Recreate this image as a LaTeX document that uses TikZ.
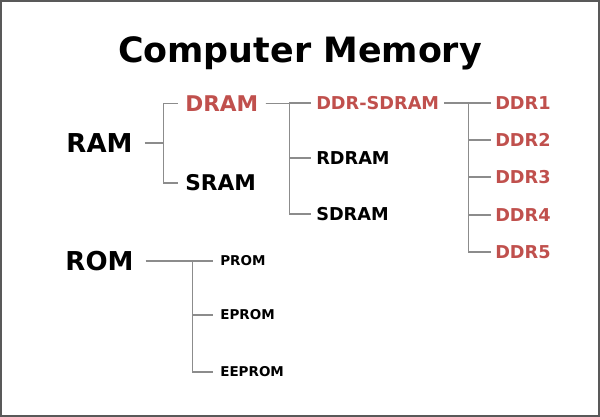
\documentclass[tikz,border=0pt]{standalone}
\usepackage{fontspec}
\setmainfont{DejaVu Sans}
\definecolor{memred}{HTML}{C0504D}
\definecolor{linegray}{HTML}{8C8C8C}
\definecolor{framegray}{HTML}{595959}
\usepackage{tikz}
\usetikzlibrary{calc}
\newcommand{\branch}[3]
{
	\draw[link] (#3.east) -- +(#1,0) |- (#2.west)
}

\begin{document}
\begin{tikzpicture}[
every node/.append style={shape=rectangle, inner ysep=0pt},
link/.style={color=linegray, line width=0.8pt},
title/.style={font=\fontsize{24.8}{30}\selectfont\bfseries, anchor=base},
big/.style={font=\fontsize{18.5}{22}\selectfont\bfseries, inner xsep=0.3cm},
mid/.style={font=\fontsize{15.4}{18}\selectfont\bfseries, inner xsep=0.175cm, anchor=west},
small/.style={font=\fontsize{12.6}{15}\selectfont\bfseries, inner xsep=0.125cm, anchor=west},
ddr/.style={font=\fontsize{12.6}{15}\selectfont\bfseries, inner xsep=0.1cm, anchor=west, color=memred},
tiny/.style={font=\fontsize{9.6}{12}\selectfont\bfseries, inner xsep=0.175cm, anchor=west}]

\useasboundingbox (0,0) rectangle (15,10.425);
\draw[color=framegray, line width=1.42pt] (0.025,0.025) rectangle (14.975,10.4);

\node[title] at (7.5, 8.85) (T){Computer Memory};

\node[big] at (2.4875, 6.85) (RAM){RAM};
\node[big] at (2.4875, 3.9)  (ROM){ROM};

\node[mid, color=memred] at (4.45, 7.84) (DRAM){DRAM};
\node[mid] at (4.45, 5.85) (SRAM){SRAM};

\node[small, color=memred] at (7.775, 7.85) (DDRSDRAM){DDR-SDRAM};
\node[small] at (7.775, 6.475) (RDRAM){RDRAM};
\node[small] at (7.775, 5.075) (SDRAM){SDRAM};

\node[ddr] at (12.275, 7.85)  (DDR1){DDR1};
\node[ddr] at (12.275, 6.925) (DDR2){DDR2};
\node[ddr] at (12.275, 6.0)   (DDR3){DDR3};
\node[ddr] at (12.275, 5.05)  (DDR4){DDR4};
\node[ddr] at (12.275, 4.125) (DDR5){DDR5};

\node[tiny] at (5.325, 3.9)   (PROM){PROM};
\node[tiny] at (5.325, 2.55)  (EPROM){EPROM};
\node[tiny] at (5.325, 1.125) (EEPROM){EEPROM};

\branch{0.475}{DRAM}{RAM};
\branch{0.475}{SRAM}{RAM};
\branch{0.6}{DDRSDRAM}{DRAM};
\branch{0.6}{RDRAM}{DRAM};
\branch{0.6}{SDRAM}{DRAM};
\branch{0.6}{DDR1}{DDRSDRAM};
\branch{0.6}{DDR2}{DDRSDRAM};
\branch{0.6}{DDR3}{DDRSDRAM};
\branch{0.6}{DDR4}{DDRSDRAM};
\branch{0.6}{DDR5}{DDRSDRAM};
\branch{1.175}{PROM}{ROM};
\branch{1.175}{EPROM}{ROM};
\branch{1.175}{EEPROM}{ROM};
\end{tikzpicture}
\end{document}
